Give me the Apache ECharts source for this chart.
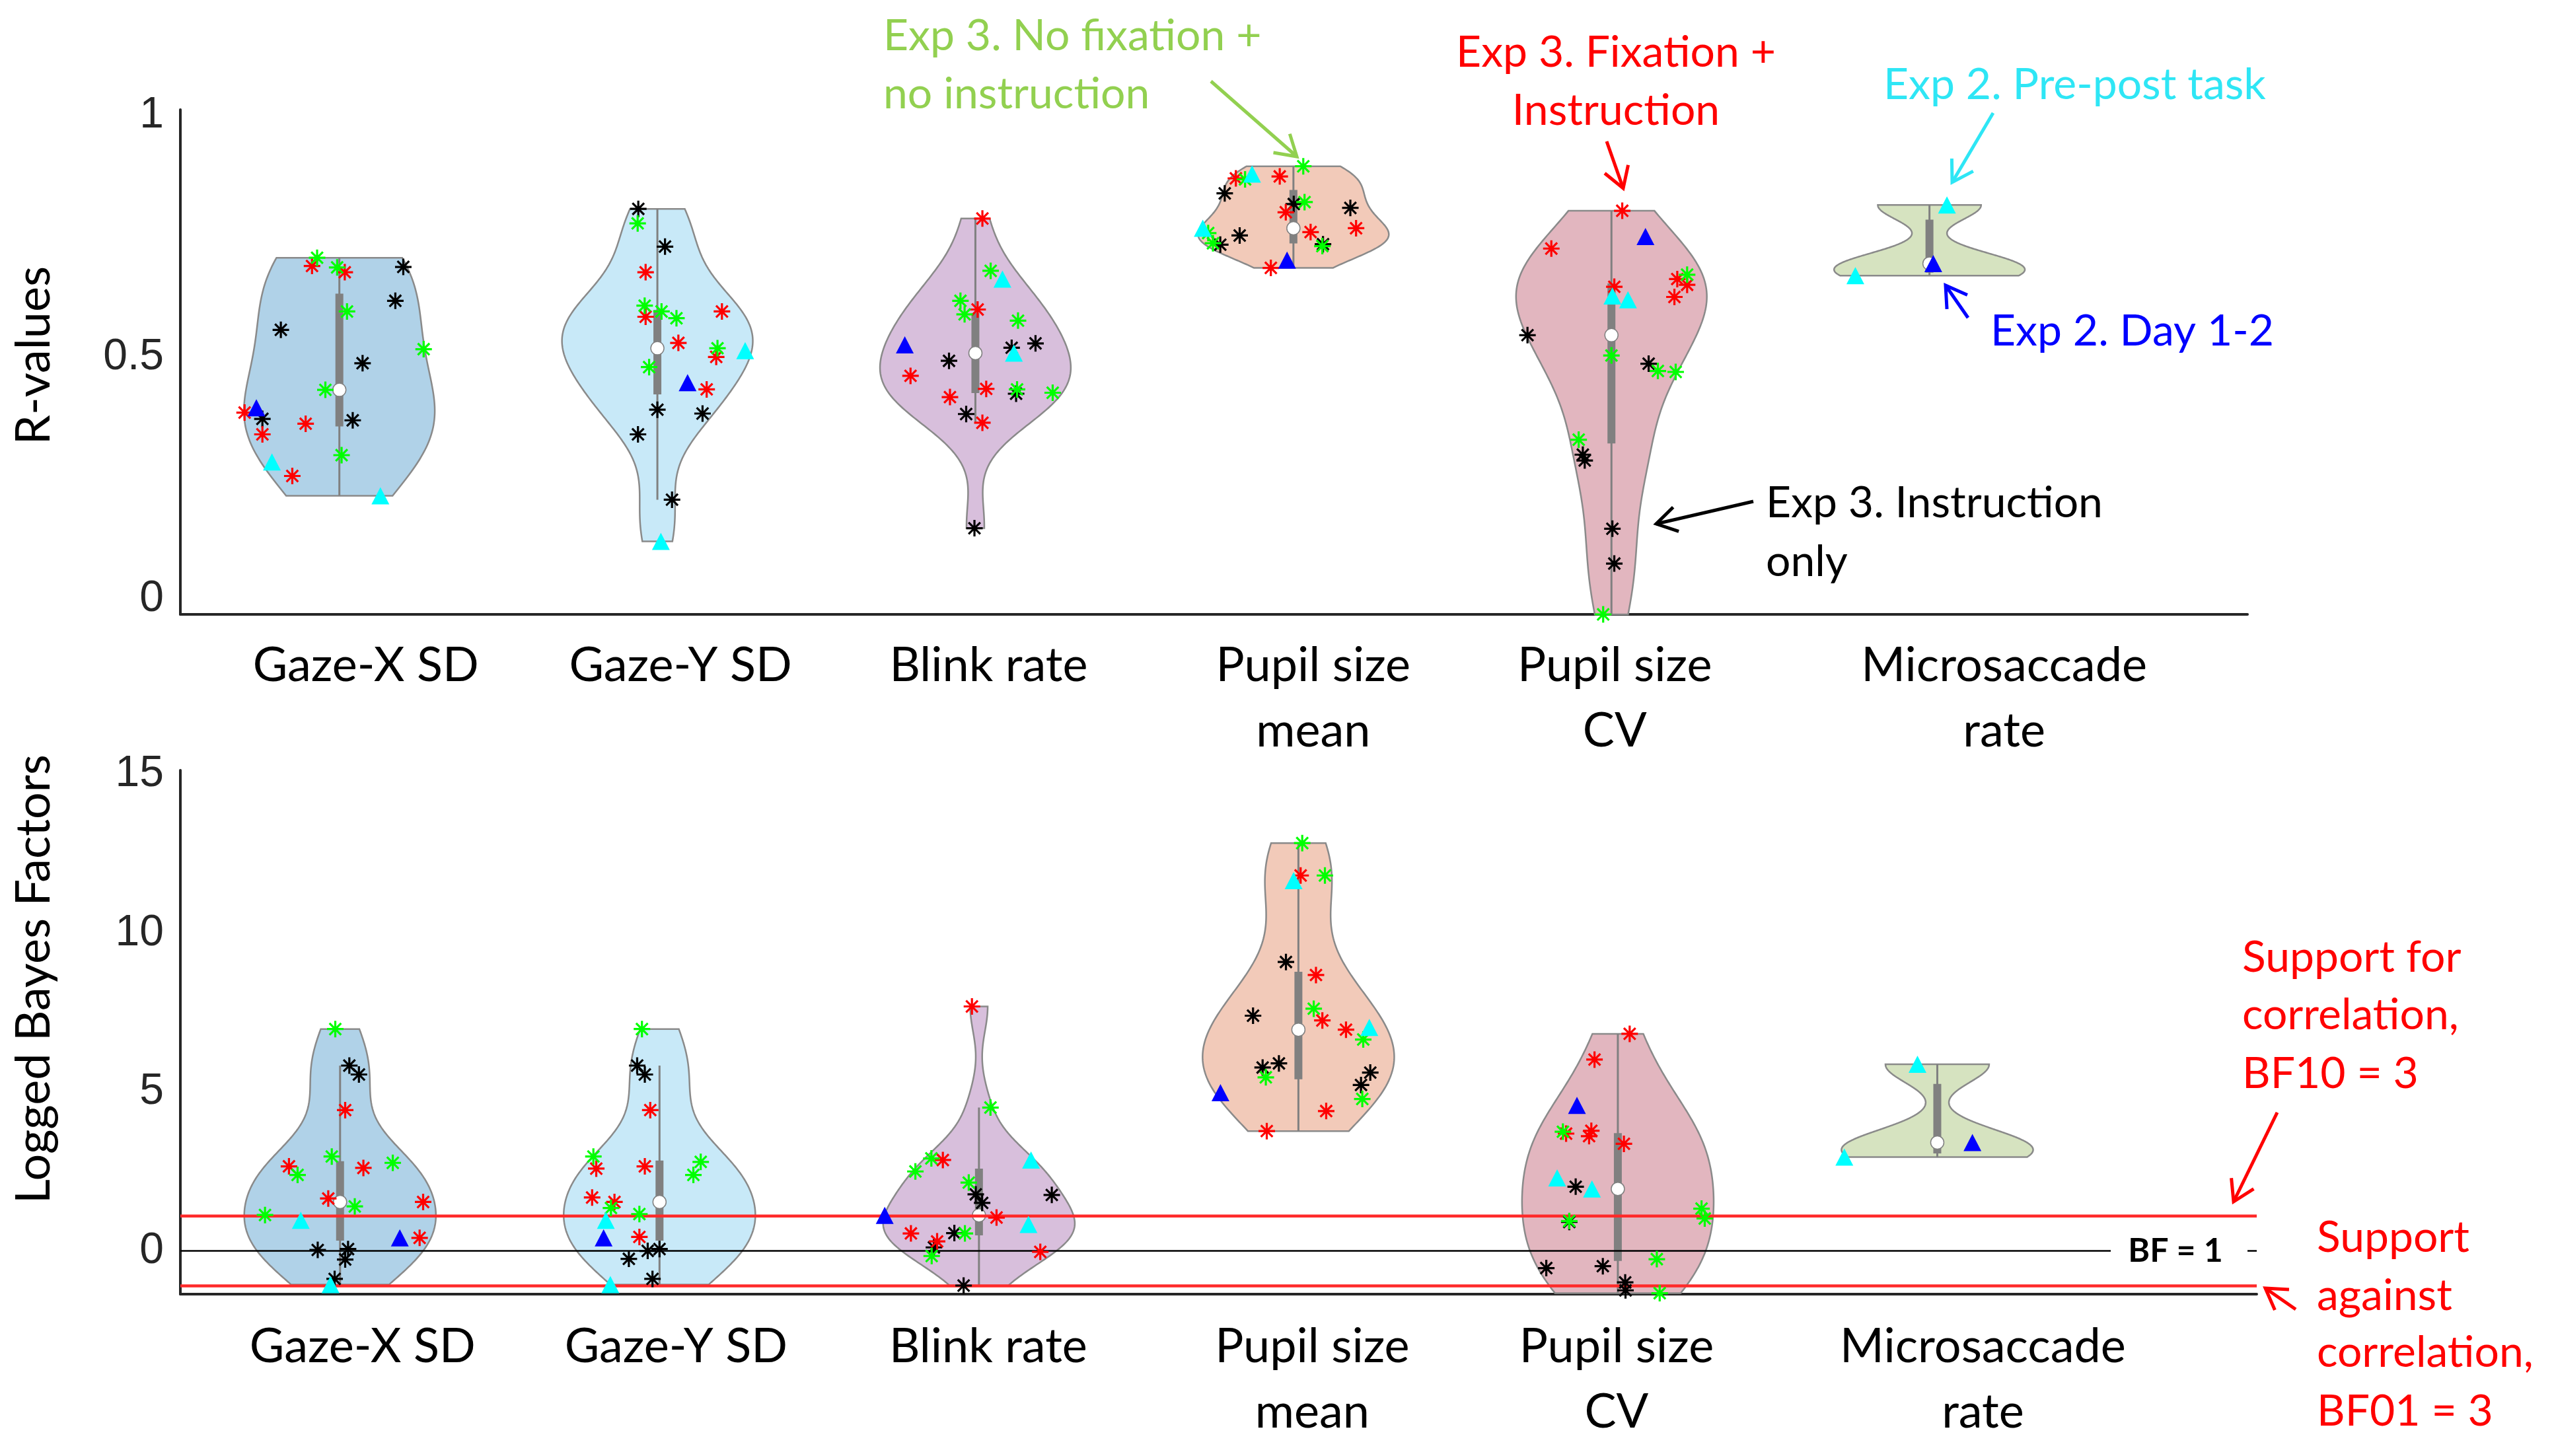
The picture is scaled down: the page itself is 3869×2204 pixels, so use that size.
<!DOCTYPE html>
<html><head><meta charset="utf-8">
<script src="https://cdn.jsdelivr.net/npm/echarts@6/dist/echarts.min.js"></script>
<style>html,body{margin:0;padding:0;background:#fff}#c{width:3869px;height:2204px}</style>
</head><body><div id="c"></div>
<script>
// ---------------- DATA ----------------
const categories = ['Gaze-X SD', 'Gaze-Y SD', 'Blink rate', 'Pupil size\nmean', 'Pupil size\nCV', 'Microsaccade\nrate'];
const rTicks = [0, 0.5, 1];
const bfTicks = [0, 5, 10, 15];
const bfThresholds = [1.0986, 0, -1.0986]; // BF10=3, BF=1, BF01=3 (log scale)

// R-values (top panel): values per category, and horizontal jitter (category units)
const rBlackVal = [[0.687,0.617,0.557,0.488,0.373,0.370],[0.807,0.729,0.392,0.384,0.341,0.206],[0.520,0.529,0.493,0.425,0.383,0.147],[0.839,0.817,0.809,0.752,0.733,0.734],[0.546,0.487,0.299,0.287,0.146,0.074],[]];
const rBlackJit = [[0.201,0.176,-0.184,0.073,-0.242,0.042],[-0.060,0.024,0.000,0.142,-0.061,0.046],[0.114,0.189,-0.083,0.128,-0.029,-0.003],[-0.216,0.001,0.179,-0.169,-0.230,0.093],[-0.264,0.117,-0.090,-0.084,0.003,0.009],[]];
const rRedVal = [[0.689,0.676,0.386,0.363,0.341,0.255],[0.676,0.584,0.595,0.530,0.501,0.434],[0.787,0.599,0.462,0.435,0.418,0.365],[0.870,0.874,0.800,0.767,0.759,0.685],[0.803,0.725,0.662,0.650,0.646,0.625],[]];
const rRedJit = [[-0.086,0.017,-0.298,-0.106,-0.242,-0.148],[-0.037,-0.037,0.203,0.066,0.185,0.155],[0.022,0.007,-0.204,0.034,-0.080,0.022],[-0.181,-0.043,-0.024,0.197,0.054,-0.071],[0.034,-0.189,0.207,0.238,0.009,0.198],[]];
const rGreenVal = [[0.706,0.686,0.595,0.517,0.433,0.298],[0.777,0.607,0.595,0.581,0.519,0.480],[0.679,0.617,0.589,0.576,0.434,0.427],[0.895,0.868,0.821,0.757,0.736,0.730],[0.671,0.504,0.472,0.470,0.330,-0.031],[]];
const rGreenJit = [[-0.070,-0.007,0.024,0.265,-0.044,0.007],[-0.062,-0.040,0.013,0.060,0.189,-0.026],[0.048,-0.047,-0.034,0.134,0.131,0.243],[0.031,-0.152,0.035,-0.268,-0.253,0.091],[0.238,0.000,0.146,0.202,-0.103,-0.026],[]];
const rBlueVal = [[0.396],[0.448],[0.526],[0.701],[0.750],[0.694]];
const rBlueJit = [[-0.261],[0.095],[-0.222],[-0.020],[0.107],[0.012]];
const rCyanVal = [[0.284,0.214],[0.514,0.120],[0.662,0.509],[0.879,0.767],[0.627,0.619],[0.815,0.669]];
const rCyanJit = [[-0.212,0.129],[0.276,0.011],[0.085,0.121],[-0.130,-0.285],[0.003,0.052],[0.055,-0.233]];

// Logged Bayes factors (bottom panel)
const bfBlackVal = [[5.83,5.55,0.03,0.06,-0.27,-0.88],[5.83,5.55,0.00,0.06,-0.25,-0.88],[1.78,1.51,1.76,0.56,0.11,-1.09],[9.09,7.40,5.77,5.90,5.61,5.22],[2.02,0.91,-0.54,-0.48,-0.99,-1.24],[]];
const bfBlackJit = [[0.029,0.059,-0.070,0.025,0.016,-0.017],[-0.070,-0.046,-0.037,0.000,-0.096,-0.022],[-0.010,0.010,0.228,-0.077,-0.141,-0.048],[-0.039,-0.142,-0.112,-0.061,0.225,0.196],[-0.132,-0.152,-0.224,-0.047,0.023,0.024],[]];
const bfRedVal = [[4.43,2.66,2.61,1.65,1.54,0.41],[4.43,2.59,2.66,1.68,1.54,0.44],[7.69,2.86,1.05,0.55,0.30,-0.03],[11.81,8.68,7.25,6.96,4.40,3.77],[6.83,6.02,3.69,3.78,3.61,3.37],[]];
const bfRedJit = [[0.016,-0.160,0.073,-0.037,0.260,0.249],[-0.029,-0.198,-0.046,-0.211,-0.141,-0.063],[-0.022,-0.113,0.055,-0.213,-0.131,0.192],[0.007,0.055,0.075,0.149,0.087,-0.099],[0.037,-0.073,-0.162,-0.083,-0.090,0.019],[]];
const bfGreenVal = [[6.98,2.97,2.39,2.77,1.40,1.13],[6.98,2.97,2.80,2.39,1.35,1.16],[4.51,2.91,2.50,2.15,0.55,-0.16],[12.83,11.81,7.62,6.65,5.46,4.78],[3.75,1.33,1.02,0.94,-0.26,-1.33],[]];
const bfGreenJit = [[-0.015,-0.026,-0.133,0.165,0.046,-0.235],[-0.055,-0.207,0.129,0.106,-0.152,-0.063],[0.036,-0.149,-0.199,-0.032,-0.044,-0.148],[0.012,0.083,0.048,0.203,-0.102,0.200],[-0.172,0.262,0.272,-0.152,0.122,0.131],[]];
const bfBlueVal = [[0.41],[0.41],[1.12],[4.98],[4.58],[3.41]];
const bfBlueJit = [[0.187],[-0.175],[-0.295],[-0.244],[-0.128],[0.110]];
const bfCyanVal = [[0.96,-1.06],[0.96,-1.06],[2.86,0.83],[11.65,7.03],[2.30,1.95],[5.87,2.95]];
const bfCyanJit = [[-0.123,-0.030],[-0.168,-0.154],[0.163,0.155],[-0.015,0.222],[-0.190,-0.081],[-0.062,-0.291]];

// ---------------- STYLE ----------------
const FONT = 'Lato, "Open Sans", sans-serif';
const violinColors = ['#B0D2E8','#C8E9F8','#D8BFDC','#F2CAB9','#E2B6BF','#D6E3C0'];
const GREEN = '#92D050', RED = '#FF0000', CYAN = '#2EE6F5', BLUE = '#0000FF';
const STAR = 'path://M0,-10L0,10M-10,0L10,0M-7.07,-7.07L7.07,7.07M-7.07,7.07L7.07,-7.07';

// ---------------- STATS ----------------
function median(a){const s=a.slice().sort((p,q)=>p-q);const m=s.length>>1;return s.length%2?s[m]:(s[m-1]+s[m])/2;}
function mquant(a,p){const s=a.slice().sort((x,y)=>x-y),n=s.length;const pos=n*p+0.5;if(pos<=1)return s[0];if(pos>=n)return s[n-1];const i=Math.floor(pos),f=pos-i;return s[i-1]+f*(s[i]-s[i-1]);}
function bandwidth(a){const m=median(a);let sig=median(a.map(v=>Math.abs(v-m)))/0.6745;if(sig<=0)sig=Math.max(...a)-Math.min(...a);return sig*Math.pow(4/(3*a.length),0.2);}
function kde(a,bw,v){let s=0;for(const d of a){const z=(v-d)/bw;s+=Math.exp(-0.5*z*z);}return s;}
function violinStats(a){
  const lo=Math.min(...a),hi=Math.max(...a),bw=bandwidth(a),N=160,prof=[];
  for(let i=0;i<=N;i++){const v=lo+(hi-lo)*i/N;prof.push([v,kde(a,bw,v)]);}
  const mx=Math.max(...prof.map(p=>p[1]));
  const q1=mquant(a,0.25),q2=mquant(a,0.5),q3=mquant(a,0.75),iqr=q3-q1;
  let lw=q1-1.5*iqr; lw=Math.max(lw,Math.min(...a.filter(v=>v>lw)));
  let hw=q3+1.5*iqr; hw=Math.min(hw,Math.max(...a.filter(v=>v<hw)));
  return {prof:prof.map(p=>[p[0],p[1]/mx*0.3]),q1,q2,q3,lw,hw};
}
function combine(groups){return categories.map((c,i)=>[].concat(...groups.map(g=>g[i])));}
function pts(vals,jits){const out=[];vals.forEach((arr,i)=>arr.forEach((v,j)=>out.push([i+1+jits[i][j],v])));return out;}

function violinSeries(gi, sets){
  const st = sets.map(violinStats);
  return {type:'custom', xAxisIndex:gi, yAxisIndex:gi, z:1, clip:false, silent:true,
    data: st.map((s,i)=>[i+1,s.q2]),
    renderItem(params, api){
      const i=params.dataIndex, pos=i+1, s=st[i];
      const right=s.prof.map(([v,w])=>api.coord([pos+w,v]));
      const left=s.prof.slice().reverse().map(([v,w])=>api.coord([pos-w,v]));
      const c=api.coord([pos,s.q2]), a=api.coord([pos,s.q3]), b=api.coord([pos,s.q1]);
      const wl=api.coord([pos,s.lw]), wh=api.coord([pos,s.hw]);
      return {type:'group',children:[
        {type:'polygon',shape:{points:right.concat(left)},style:{fill:violinColors[i],stroke:'#8a8a8a',lineWidth:2.5}},
        {type:'line',shape:{x1:c[0],y1:wh[1],x2:c[0],y2:wl[1]},style:{stroke:'#808080',lineWidth:3}},
        {type:'rect',shape:{x:c[0]-6,y:a[1],width:12,height:b[1]-a[1]},style:{fill:'#808080'}},
        {type:'circle',shape:{cx:c[0],cy:c[1],r:10},style:{fill:'#fff',stroke:'#808080',lineWidth:1.5}}
      ]};
    }};
}
const groupStyles = [
  {color:'#000000', star:true}, {color:RED, star:true}, {color:'#00FF00', star:true},
  {color:BLUE, star:false}, {color:'#00FFFF', star:false}];
function scatterSeries(gi, list){
  return list.map((d,k)=>{const g=groupStyles[k];return {
    type:'scatter', xAxisIndex:gi, yAxisIndex:gi, z:5+k, clip:false, silent:true,
    symbol: g.star?STAR:'triangle', symbolSize: g.star?25:[27,26],
    itemStyle: g.star?{color:g.color,borderColor:g.color,borderWidth:3.2,opacity:1}:{color:g.color,opacity:1},
    data: pts(d[0],d[1])};});
}
function hLine(gi,v,color,w){return {type:'line',xAxisIndex:gi,yAxisIndex:gi,z:3,silent:true,symbol:'none',
  lineStyle:{color,width:w},data:[[0.5,v],[7,v]]};}

const topSets = combine([rBlackVal,rRedVal,rGreenVal,rBlueVal,rCyanVal]);
const botSets = combine([bfBlackVal,bfRedVal,bfGreenVal,bfBlueVal,bfCyanVal]);

function rich(shifts,lift){const r={};shifts.forEach((s,i)=>{r['t'+i]={fontFamily:FONT,fontSize:72,lineHeight:99,color:'#000',padding:[0,s<0?-2*s:0,(lift&&lift[i])?2*lift[i]:0,s>=0?2*s:0]};});return r;}
function catFmt(v){const i=Math.round(v)-1;return categories[i].split('\n').map(s=>'{t'+i+'|'+s+'}').join('\n');}
const topShift=[40,35,20,30,5,113], botShift=[34,25,14,21,-2,69];

function xAxis(gi, shifts, margin){return {type:'value',gridIndex:gi,min:0.5,max:7,
  axisLine:{show:true,onZero:false,lineStyle:{color:'#262626',width:4}},axisTick:{show:false},splitLine:{show:false},
  axisLabel:{customValues:[1,2,3,4,5,6],formatter:catFmt,rich:rich(shifts),margin,color:'#000'}};}
function yAxis(gi,min,max,ticks){return {type:'value',gridIndex:gi,min,max,
  axisLine:{show:true,onZero:false,lineStyle:{color:'#262626',width:4}},axisTick:{show:false},splitLine:{show:false},
  axisLabel:{customValues:ticks,formatter:v=>String(v),fontFamily:'"Liberation Sans", Arial, sans-serif',fontSize:66,color:'#262626',margin:25}};}

const chart = echarts.init(document.getElementById('c'));
chart.setOption({
  animation:false, backgroundColor:'#fff',
  grid:[{left:273,top:166,width:3129,height:764,outerBoundsMode:'none'},{left:273,top:1166,width:3143,height:793,outerBoundsMode:'none'}],
  xAxis:[xAxis(0,topShift,28),xAxis(1,botShift,30)],
  yAxis:[yAxis(0,-0.031,1.012,rTicks),yAxis(1,-1.36,15.12,bfTicks)],
  series:[violinSeries(0,topSets),violinSeries(1,botSets),
    hLine(1,bfThresholds[0],'#FF2A2A',4.5),hLine(1,bfThresholds[1],'#000',2.5),hLine(1,bfThresholds[2],'#FF2A2A',4.5)]
    .concat(scatterSeries(0,[[rBlackVal,rBlackJit],[rRedVal,rRedJit],[rGreenVal,rGreenJit],[rBlueVal,rBlueJit],[rCyanVal,rCyanJit]]))
    .concat(scatterSeries(1,[[bfBlackVal,bfBlackJit],[bfRedVal,bfRedJit],[bfGreenVal,bfGreenJit],[bfBlueVal,bfBlueJit],[bfCyanVal,bfCyanJit]]))
});

// ---------------- ANNOTATIONS ----------------
const notes = [
 {lines:['Exp 3. No fixation +','no instruction'], x:1337, y:[55,143], align:'left', color:GREEN},
 {lines:['Exp 3. Fixation +','Instruction'], x:2446, y:[80,168], align:'center', color:RED},
 {lines:['Exp 2. Pre-post task'], x:2851, y:[129], align:'left', color:CYAN},
 {lines:['Exp 2. Day 1-2'], x:3013, y:[502], align:'left', color:BLUE},
 {lines:['Exp 3. Instruction','only'], x:2673, y:[762,851], align:'left', color:'#000'},
 {lines:['Support for','correlation,','BF10 = 3'], x:3394, y:[1450,1537,1626], align:'left', color:RED},
 {lines:['Support','against','correlation,','BF01 = 3'], x:3507, y:[1874,1962,2048,2137], align:'left', color:RED}
];
const arrows = [
 [1833,123,1963,237,GREEN],[2432,214,2457,285,RED],[3017,171,2955,276,CYAN],[2979,481,2945,432,BLUE],
 [2654,759,2507,793,'#000'],[3447,1684,3381,1819,RED],[3475,1982,3429,1950,RED]
];
const els = [];
notes.forEach(n=>n.lines.forEach((t,k)=>els.push({type:'text',z:20,x:n.x,y:n.y[k],
  style:{text:t,fill:n.color,font:'66px '+FONT,textAlign:n.align,textVerticalAlign:'middle'}})));
arrows.forEach(([x1,y1,x2,y2,c])=>{
  const a=Math.atan2(y2-y1,x2-x1),L=36,sp=0.55;
  els.push({type:'line',z:20,shape:{x1,y1,x2,y2},style:{stroke:c,lineWidth:5}});
  els.push({type:'polyline',z:20,shape:{points:[[x2-L*Math.cos(a-sp),y2-L*Math.sin(a-sp)],[x2,y2],[x2-L*Math.cos(a+sp),y2-L*Math.sin(a+sp)]]},style:{stroke:c,lineWidth:5,fill:null}});
});
els.push({type:'text',z:20,x:52,y:538,rotation:Math.PI/2,style:{text:'R-values',fill:'#000',font:'72px '+FONT,textAlign:'center',textVerticalAlign:'middle'}});
els.push({type:'text',z:20,x:52,y:1482,rotation:Math.PI/2,style:{text:'Logged Bayes Factors',fill:'#000',font:'72px '+FONT,textAlign:'center',textVerticalAlign:'middle'}});
const p = chart.convertToPixel({gridIndex:1},[7,bfThresholds[1]]);
els.push({type:'rect',z:19,shape:{x:p[0]-221,y:p[1]-16,width:207,height:32},style:{fill:'#fff'}});
els.push({type:'text',z:20,x:p[0]-123,y:p[1],style:{text:'BF = 1',fill:'#000',font:'bold 50px '+FONT,textAlign:'center',textVerticalAlign:'middle'}});
chart.setOption({graphic:{elements:els}});
</script></body></html>
